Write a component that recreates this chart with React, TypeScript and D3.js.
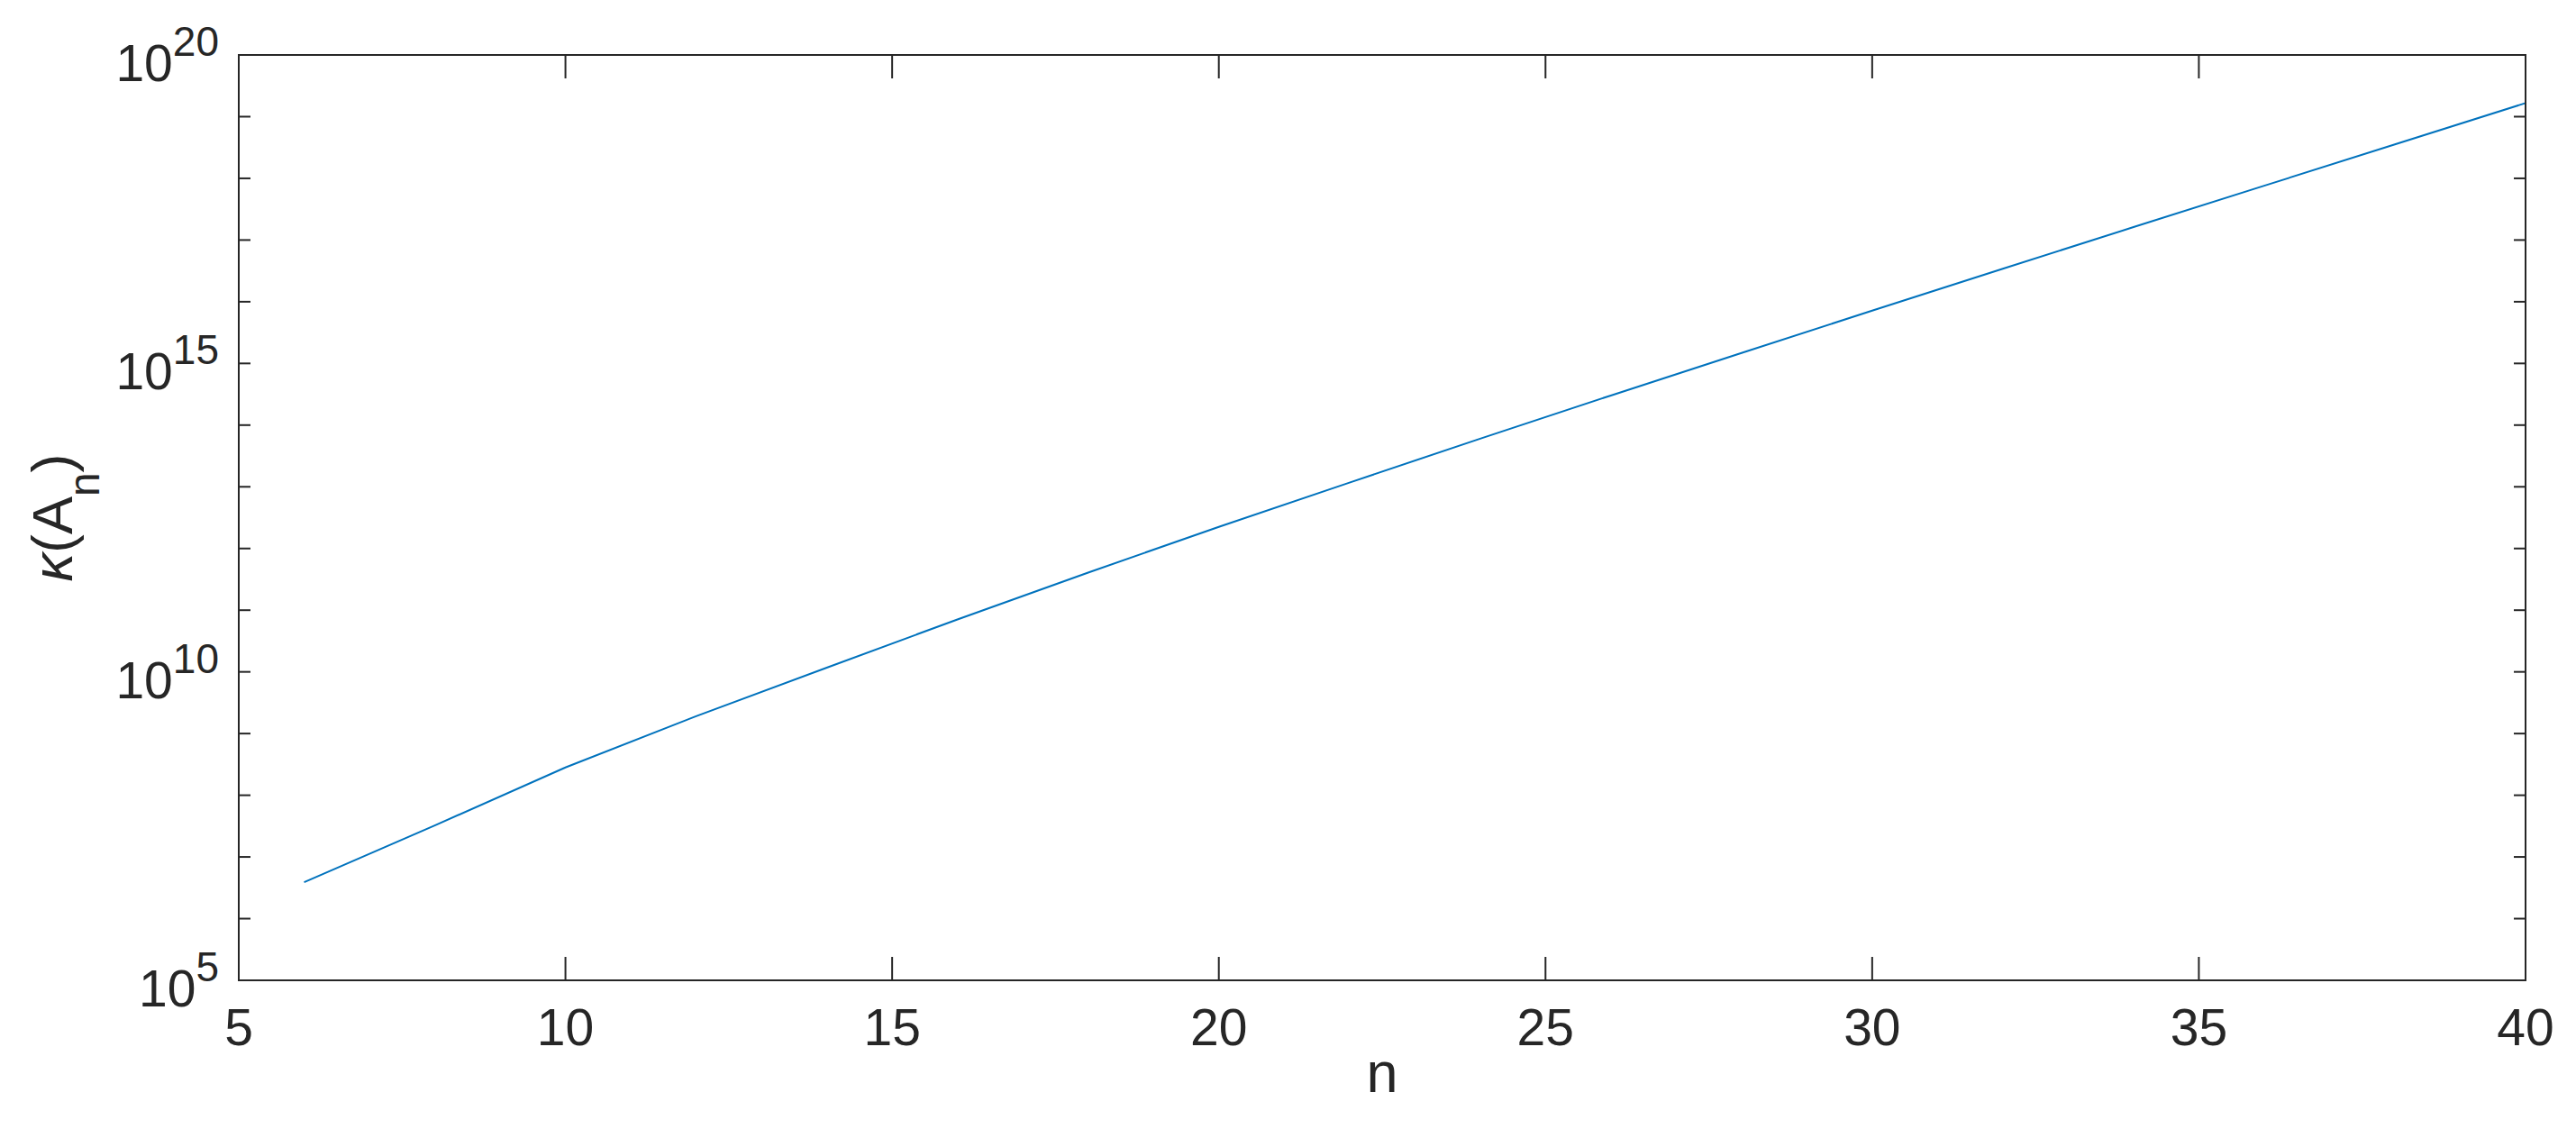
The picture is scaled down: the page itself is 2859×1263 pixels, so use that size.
import React from 'react';
import * as d3 from 'd3';

// condition number of A_n at even n
const nValues = [6, 8, 10, 12, 14, 16, 18, 20, 22, 24, 26, 28, 30, 32, 34, 36, 38, 40];
const kappaValues = [
  3.89e6, 3.24e7, 2.82e8, 1.91e9, 1.17e10, 7.08e10, 4.07e11, 2.24e12, 1.17e13,
  6.03e13, 3.02e14, 1.48e15, 7.16e15, 3.43e16, 1.62e17, 7.59e17, 3.55e18, 1.66e19,
];
const xTicks = [5, 10, 15, 20, 25, 30, 35, 40];
const yLabelExps = [5, 10, 15, 20];
const yMinorExps = d3.range(5, 21);

const App = () => {
  const width = 2859;
  const height = 1263;
  const margin = { top: 61, right: 56, bottom: 175, left: 265 };
  const innerW = width - margin.left - margin.right;
  const innerH = height - margin.top - margin.bottom;

  const axisColor = '#262626';
  const font = '"Liberation Sans", Arial, Helvetica, sans-serif';

  const x = d3.scaleLinear().domain([5, 40]).range([0, innerW]);
  const y = d3.scaleLog().domain([1e5, 1e20]).range([innerH, 0]);

  const data = nValues.map((n, i) => [n, kappaValues[i]] as [number, number]);
  const line = d3.line<[number, number]>()
    .x(d => x(d[0]))
    .y(d => y(d[1]));

  const xTickLen = 26;
  const yTickLen = 13;

  return (
    <svg
      width={width}
      height={height}
      style={{ position: 'absolute', left: 0, top: 0, background: '#fff' }}
    >
      <g transform={`translate(${margin.left},${margin.top})`}>
        {/* data line */}
        <path d={line(data) || ''} fill="none" stroke="#0072BD" strokeWidth={2} />

        {/* box */}
        <rect x={0} y={0} width={innerW} height={innerH} fill="none" stroke={axisColor} strokeWidth={2} />

        {/* x ticks, bottom and top */}
        {xTicks.map(t => (
          <g key={`xt${t}`}>
            <line x1={x(t)} x2={x(t)} y1={innerH} y2={innerH - xTickLen} stroke={axisColor} strokeWidth={2} />
            <line x1={x(t)} x2={x(t)} y1={0} y2={xTickLen} stroke={axisColor} strokeWidth={2} />
            <text
              x={x(t)}
              y={innerH + 72}
              textAnchor="middle"
              fontFamily={font}
              fontSize={57}
              fill={axisColor}
            >
              {t}
            </text>
          </g>
        ))}

        {/* y ticks every decade, left and right */}
        {yMinorExps.map(e => (
          <g key={`yt${e}`}>
            <line x1={0} x2={yTickLen} y1={y(10 ** e)} y2={y(10 ** e)} stroke={axisColor} strokeWidth={2} />
            <line x1={innerW} x2={innerW - yTickLen} y1={y(10 ** e)} y2={y(10 ** e)} stroke={axisColor} strokeWidth={2} />
          </g>
        ))}

        {/* y tick labels 10^k */}
        {yLabelExps.map(e => (
          <text
            key={`yl${e}`}
            x={-22}
            y={y(10 ** e) + 29}
            textAnchor="end"
            fontFamily={font}
            fontSize={57}
            fill={axisColor}
          >
            <tspan>10</tspan>
            <tspan dy={-28} fontSize={46}>{e}</tspan>
          </text>
        ))}

        {/* x axis label */}
        <text
          x={innerW / 2}
          y={innerH + 124}
          textAnchor="middle"
          fontFamily={font}
          fontSize={63}
          fill={axisColor}
        >
          n
        </text>

        {/* y axis label */}
        <text
          transform={`translate(${80 - margin.left},${innerH / 2}) rotate(-90)`}
          textAnchor="middle"
          fontFamily={font}
          fontSize={63}
          fill={axisColor}
        >
          <tspan fontStyle="italic">κ</tspan>
          <tspan>(A</tspan>
          <tspan dy={30} fontSize={48}>n</tspan>
          <tspan dy={-30}>)</tspan>
        </text>
      </g>
    </svg>
  );
};

export default App;
